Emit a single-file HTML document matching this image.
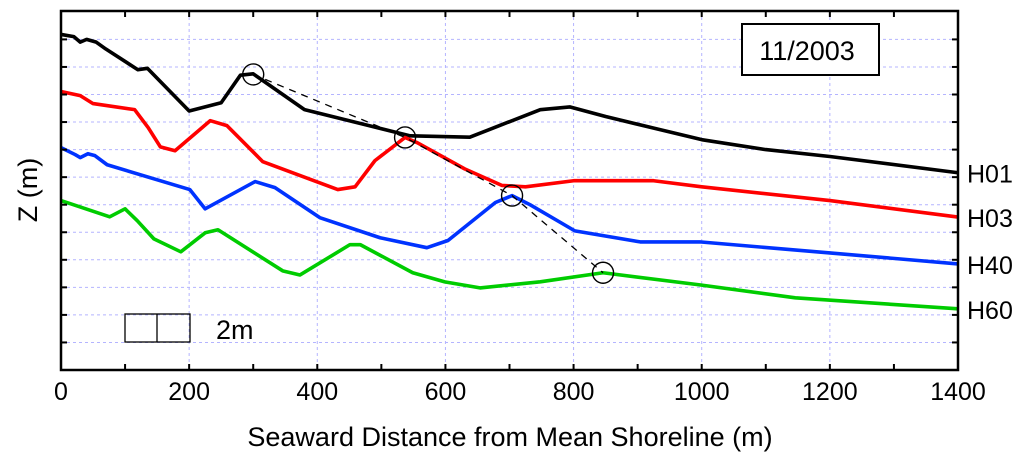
<!DOCTYPE html>
<html><head><meta charset="utf-8"><style>
body{margin:0;background:#fff;}
svg{display:block;font-family:"Liberation Sans",sans-serif;}
</style></head><body>
<svg id="chart" width="1024" height="459" viewBox="0 0 1024 459">
<g id="grid"></g>
<g id="series"></g>
<g id="marks"></g>
<g id="axes"></g>
<rect x="742" y="24" width="137" height="51" fill="#fff" stroke="#000" stroke-width="2"/>
<text x="807" y="60" font-size="27" text-anchor="middle">11/2003</text>
<g>
<rect x="125" y="314" width="65" height="28" fill="none" stroke="#000" stroke-width="1.3"/>
<line x1="157" y1="314" x2="157" y2="342" stroke="#000" stroke-width="1.3"/>
<text x="216" y="339" font-size="27">2m</text>
</g>
<text x="510" y="446" font-size="27" text-anchor="middle">Seaward Distance from Mean Shoreline (m)</text>
<text transform="translate(37,190) rotate(-90)" font-size="27" text-anchor="middle">Z (m)</text>
</svg>
<script>
const xTicks=[0,200,400,600,800,1000,1200,1400];
const seriesNames=["H01","H03","H40","H60"];
const seriesColors=["#000000","#ff0000","#0033ff","#00cc00"];
const h01X=[0,20,30,40,55,70,120,135,200,250,280,300,380,545,638,748,794,850,1000,1100,1200,1400];
const h01Z=[12.18,12.1,11.9,12.0,11.9,11.65,10.9,10.95,9.4,9.7,10.7,10.75,9.45,8.5,8.45,9.45,9.55,9.2,8.36,8.0,7.75,7.16];
const h03X=[0,30,50,115,136,155,178,233,259,315,432,459,490,537,556,630,688,725,800,925,1000,1200,1400];
const h03Z=[10.11,9.96,9.67,9.45,8.8,8.1,7.96,9.05,8.87,7.56,6.55,6.65,7.6,8.44,8.25,7.3,6.7,6.65,6.87,6.87,6.65,6.15,5.55];
const h40X=[0,22,30,42,53,72,201,225,303,334,404,498,571,604,678,704,732,802,904,997,1200,1400];
const h40Z=[8.07,7.82,7.71,7.85,7.78,7.45,6.55,5.85,6.84,6.62,5.53,4.8,4.44,4.7,6.08,6.33,6.0,5.05,4.65,4.65,4.25,3.85];
const h60X=[0,76,100,119,145,187,225,245,346,373,451,467,549,599,654,748,846,997,1146,1400];
const h60Z=[6.15,5.56,5.85,5.42,4.76,4.29,4.98,5.09,3.6,3.45,4.55,4.55,3.53,3.2,2.98,3.2,3.53,3.09,2.62,2.22];
const crestX=[300,537,704,846];
const crestZ=[10.73,8.44,6.33,3.53];
const yGridVals=[1,2,3,4,5,6,7,8,9,10,11,12];
const L=61,R=958,T=11,B=370;
const X=v=>L+(v-0)*(R-L)/1400;
const Y=v=>B-v*27.55;
const NS="http://www.w3.org/2000/svg";
function mk(tag,attrs,parent){const e=document.createElementNS(NS,tag);for(const k in attrs)e.setAttribute(k,attrs[k]);parent.appendChild(e);return e;}
const grid=document.getElementById('grid'),axes=document.getElementById('axes'),ser=document.getElementById('series'),marks=document.getElementById('marks');
yGridVals.forEach(v=>{const l=mk('line',{x1:L,x2:R,y1:Y(v),y2:Y(v),stroke:'#b4b4ff','stroke-width':1,'stroke-dasharray':'3,3'},grid);


[L,R].forEach(xx=>{const t=mk('line',{x1:xx,x2:xx+(xx==L?6:-6),y1:Y(v),y2:Y(v),stroke:'#000','stroke-width':2},axes);

});});
xTicks.slice(1,-1).forEach(v=>{const l=mk('line',{x1:X(v),x2:X(v),y1:T,y2:B,stroke:'#b4b4ff','stroke-width':1,'stroke-dasharray':'3,3'},grid);

});
for(let v=100;v<1400;v+=100){[[B,B-6],[T,T+6]].forEach(p=>{const t=mk('line',{x1:X(v),x2:X(v),y1:p[0],y2:p[1],stroke:'#000','stroke-width':2},axes);

});}
xTicks.forEach(v=>{const t=mk('text',{x:X(v),y:400,'font-size':25,'text-anchor':'middle'},axes);t.textContent=v;

});
const fr=mk('rect',{x:L,y:T,width:R-L,height:B-T,fill:'none',stroke:'#000','stroke-width':2.5},axes);


const allX=[h01X,h03X,h40X,h60X],allZ=[h01Z,h03Z,h40Z,h60Z];
allX.forEach((xs,i)=>{const pts=xs.map((x,j)=>X(x)+','+Y(allZ[i][j])).join(' ');
const p=mk('polyline',{points:pts,fill:'none',stroke:seriesColors[i],'stroke-width':3.6,'stroke-linejoin':'round'},ser);


const zl=allZ[i][allZ[i].length-1];
const t=mk('text',{x:967,y:Y(zl)+10,'font-size':25},ser);t.textContent=seriesNames[i];

});
const dl=mk('polyline',{points:crestX.map((x,j)=>X(x)+','+Y(crestZ[j])).join(' '),fill:'none',stroke:'#000','stroke-width':1.3,'stroke-dasharray':'7,6'},marks);


crestX.forEach((x,j)=>{const c=mk('circle',{cx:X(x),cy:Y(crestZ[j]),r:10.5,fill:'none',stroke:'#000','stroke-width':1.4},marks);

});
</script>
</body></html>
